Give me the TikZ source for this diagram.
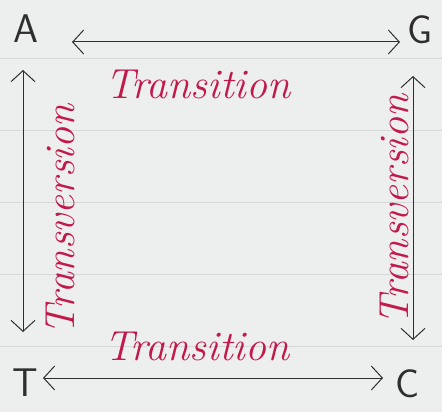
\documentclass[tikz,border=0pt]{standalone}
\usetikzlibrary{arrows.meta}
\definecolor{paper}{HTML}{EDEFEE}
\definecolor{rule}{HTML}{D6D9D9}
\definecolor{ink}{HTML}{2E2E2E}
\definecolor{redink}{HTML}{C2184A}
\tikzset{
  base/.style={text=ink, font=\fontsize{40}{40}\selectfont\sffamily, inner sep=0pt},
  label/.style={text=redink, font=\fontsize{42}{42}\selectfont\itshape, inner sep=0pt},
  both/.style={draw=ink, line width=1pt,
    {Straight Barb[length=11pt,width=24pt]}-{Straight Barb[length=11pt,width=24pt]}},
  ruling/.style={draw=rule, line width=0.8pt}
}
\begin{document}
\begin{tikzpicture}[x=1pt,y=-1pt]
  % ruled sheet
  \fill[paper] (0,0) rectangle (442,412);
  \useasboundingbox (0,0) rectangle (442,412);
  \foreach \yy in {58,130,202,274,346} {
    \draw[ruling] (0,\yy) -- (442,\yy);
  }

  % bases at the corners
  \node[base] (A) at (26,29) {A};
  \node[base] (G) at (420,30) {G};
  \node[base] (T) at (25,383) {T};
  \node[base] (C) at (408,384) {C};

  % arrow end points
  \coordinate (topL) at (72,42);
  \coordinate (topR) at (400,42);
  \coordinate (botL) at (43,378);
  \coordinate (botR) at (383,378);
  \coordinate (leftT) at (23,70);
  \coordinate (leftB) at (23,332);
  \coordinate (rightT) at (413,76);
  \coordinate (rightB) at (413,340);

  % connectors
  \draw[both] (topL) -- (topR);
  \draw[both] (botL) -- (botR);
  \draw[both] (leftT) -- (leftB);
  \draw[both] (rightT) -- (rightB);

  % labels
  \node[label] (ti1) at (198,84) {Transition};
  \node[label] (ti2) at (197,346) {Transition};
  \node[label, rotate=90] (tv1) at (60,220) {Transversion};
  \node[label, rotate=90] (tv2) at (394,210) {Transversion};
\end{tikzpicture}
\end{document}
